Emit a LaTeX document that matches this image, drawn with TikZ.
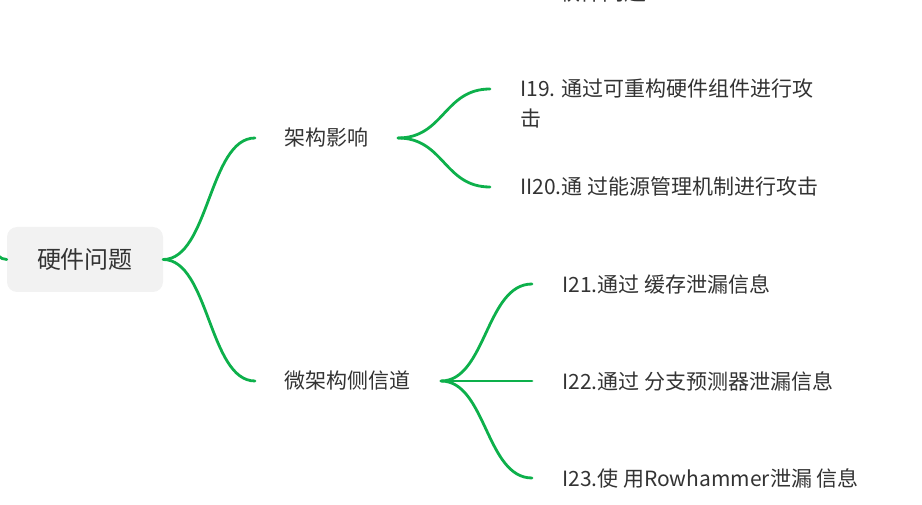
\documentclass[tikz,border=0pt]{standalone}
\usepackage{fontspec}
\setmainfont{Noto Sans CJK SC}
\definecolor{branch}{HTML}{0DB04B}
\definecolor{txt}{HTML}{333333}
\definecolor{rootfill}{HTML}{F2F2F2}
\begin{document}
\begin{tikzpicture}[x=1pt,y=-1pt,
  conn/.style={draw=branch,line width=2.8pt,line cap=round},
  lvl/.style={text=txt,font=\fontsize{21}{30}\selectfont,inner sep=0pt,anchor=west,align=left},
  rootbox/.style={fill=rootfill,rounded corners=10pt,minimum width=156pt,minimum height=65pt,inner sep=0pt,text=txt,font=\fontsize{24}{28}\selectfont}]
\useasboundingbox (0,0) rectangle (922,505);
\clip (0,0) rectangle (922,505);
% partially visible text at top
\node[lvl,font=\fontsize{22}{30}\selectfont] (top) at (558,-8) {软件问题};
% root
\node[rootbox] (root) at (85,259.5) {硬件问题};
\coordinate (prev) at (-60,170);
\draw[conn] (prev) .. controls (-20,170) and (-20,259.5) .. (root.west);
% level 2
\node[lvl] (arch) at (284,138) {架构影响};
\node[lvl] (micro) at (284,381) {微架构侧信道};
\coordinate (archIn) at (255,138);
\coordinate (microIn) at (255,381);
\coordinate (archOut) at (398,138);
\coordinate (microOut) at (441,381);
\draw[conn] (root.east) .. controls (209,259.5) and (209,138) .. (archIn);
\draw[conn] (root.east) .. controls (209,259.5) and (209,381) .. (microIn);
% level 3 under arch
\node[lvl] (i19) at (520,104) {I19. 通过可重构硬件组件进行攻\\击};
\node[lvl] (i20) at (520,187) {II20.通 过能源管理机制进行攻击};
\coordinate (i19In) at (490,89);
\coordinate (i20In) at (490,187);
\draw[conn] (archOut) .. controls (444,138) and (444,89) .. (i19In);
\draw[conn] (archOut) .. controls (444,138) and (444,187) .. (i20In);
% level 3 under micro
\node[lvl] (i21) at (562,284) {I21.通过 缓存泄漏信息};
\node[lvl] (i22) at (562,381) {I22.通过 分支预测器泄漏信息};
\node[lvl] (i23) at (562,478) {I23.使 用Rowhammer泄漏 信息};
\coordinate (i21In) at (532,284);
\coordinate (i22In) at (532,381);
\coordinate (i23In) at (532,478);
\draw[conn] (microOut) .. controls (486,381) and (486,284) .. (i21In);
\draw[conn] (microOut) -- (i22In);
\draw[conn] (microOut) .. controls (486,381) and (486,478) .. (i23In);
\end{tikzpicture}
\end{document}
